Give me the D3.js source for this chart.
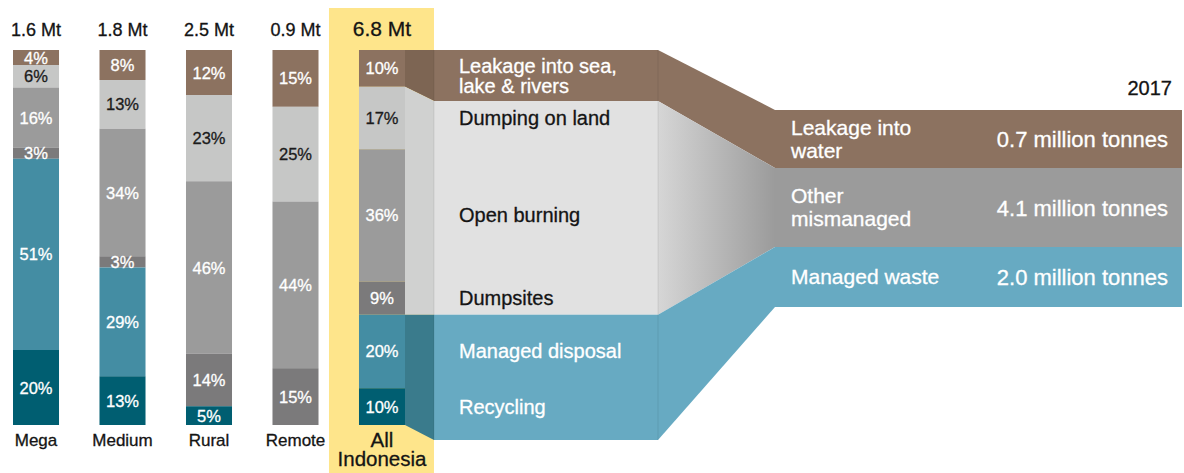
<!DOCTYPE html>
<html>
<head>
<meta charset="utf-8">
<script src="https://cdn.jsdelivr.net/npm/d3@7"></script>
<style>
  body { margin: 0; background: #fff; }
  svg { display: block; font-family: "Liberation Sans", Arial, sans-serif; }
  svg text { stroke: currentColor; stroke-width: 0.3px; }
</style>
</head>
<body>
<svg id="chart" width="1184" height="473"></svg>
<script>
// data
const categories = ["Mega", "Medium", "Rural", "Remote", "All Indonesia"];
const totals = ["1.6 Mt", "1.8 Mt", "2.5 Mt", "0.9 Mt", "6.8 Mt"];
const leakage = [4, 8, 12, 15, 10];
const dumpingLand = [6, 13, 23, 25, 17];
const openBurning = [16, 34, 46, 44, 36];
const dumpsites = [3, 3, 14, 15, 9];
const managedDisposal = [51, 29, 0, 0, 20];
const recycling = [20, 13, 5, 0, 10];
const fateLabels = [["Leakage into sea,", "lake & rivers"], ["Dumping on land"], ["Open burning"], ["Dumpsites"], ["Managed disposal"], ["Recycling"]];
const outcomeLabels = [["Leakage into", "water"], ["Other", "mismanaged"], ["Managed waste"]];
const outcomeValues = [0.7, 4.1, 2.0];
const year = "2017";

const series = [leakage, dumpingLand, openBurning, dumpsites, managedDisposal, recycling];
const segColors = ["#8c7260", "#c6c7c6", "#9b9b9b", "#7b7a7b", "#448da3", "#005e71"];
const segText = ["#fff", "#1b1b1b", "#fff", "#fff", "#fff", "#fff"];

const svg = d3.select("#chart");
const dark = "#141414";

const barTop = 50, barBottom = 425;
const x = d3.scaleBand().domain(categories).range([13, 405]).paddingInner(0.468);
const bw = x.bandwidth();

// stacked rows per category
const rows = categories.map((c, i) => {
  const vals = series.map(s => s[i]);
  const sum = d3.sum(vals);
  const y = d3.scaleLinear().domain([0, sum]).range([barTop, barBottom]);
  let acc = 0;
  const segs = vals.map((v, k) => {
    const s = { k, v, y0: y(acc), y1: y(acc + v) };
    acc += v;
    return s;
  });
  return { c, i, segs };
});

const all = rows[rows.length - 1];

// yellow highlight behind All Indonesia
svg.append("rect")
  .attr("x", x("All Indonesia") - 30).attr("y", 8)
  .attr("width", 105).attr("height", 473 - 8)
  .attr("fill", "#fee58b");

// layout of the flow part
const xc0 = x("All Indonesia") + bw, xc1 = 434, xm1 = 658, xr0 = 775, xr1 = 1182;
const seg = all.segs;
const midLeakBottom = 101, midBottom = 440;
const mid = [
  [seg[0].y0, midLeakBottom],
  [midLeakBottom, seg[3].y1],
  [seg[3].y1, midBottom]
];
const groupLeft = [
  [seg[0].y0, seg[0].y1],
  [seg[1].y0, seg[3].y1],
  [seg[4].y0, seg[5].y1]
];
const boxTops = [110, 168, 247, 307];
const right = [0, 1, 2].map(j => [boxTops[j], boxTops[j + 1]]);

const connColors = ["#7d6553", "#d0d1d0", "#3a7b8c"];
const midColors = ["#8c7260", "#e1e1e1", "#67aac2"];
const boxColors = ["#8c7260", "#9b9b9b", "#67aac2"];

const defs = svg.append("defs");
const grad = defs.append("linearGradient").attr("id", "gray-grad")
  .attr("x1", "0%").attr("x2", "100%").attr("y1", "0%").attr("y2", "0%");
grad.append("stop").attr("offset", "0%").attr("stop-color", "#d6d6d6");
grad.append("stop").attr("offset", "100%").attr("stop-color", "#9b9b9b");
const rightConn = ["#8c7260", "url(#gray-grad)", "#67aac2"];

const quad = (xa, a, xb, b) => `M${xa},${a[0]}L${xb},${b[0]}L${xb},${b[1]}L${xa},${a[1]}Z`;

// left connectors
svg.selectAll(".conn-l").data(groupLeft).join("path")
  .attr("class", "conn-l")
  .attr("d", (d, j) => quad(xc0, d, xc1, mid[j]))
  .attr("fill", (d, j) => connColors[j]);

// middle panel
svg.selectAll(".mid").data(mid).join("rect")
  .attr("class", "mid")
  .attr("x", xc1).attr("width", xm1 - xc1)
  .attr("y", d => d[0]).attr("height", d => d[1] - d[0])
  .attr("fill", (d, j) => midColors[j]);

// right connectors
svg.selectAll(".conn-r").data(mid).join("path")
  .attr("class", "conn-r")
  .attr("d", (d, j) => quad(xm1, d, xr0, right[j]))
  .attr("fill", (d, j) => rightConn[j]);

// thin edges
[xc1, xm1].forEach(xx => {
  svg.append("line").attr("x1", xx).attr("x2", xx).attr("y1", mid[0][0]).attr("y2", midBottom)
    .attr("stroke", "#000").attr("stroke-opacity", 0.08);
});

// right boxes
svg.selectAll(".box").data(right).join("rect")
  .attr("class", "box")
  .attr("x", xr0).attr("width", xr1 - xr0)
  .attr("y", d => d[0]).attr("height", d => d[1] - d[0])
  .attr("fill", (d, j) => boxColors[j]);

svg.append("text").attr("x", 1172).attr("y", 95)
  .attr("text-anchor", "end").attr("font-size", 20).attr("fill", dark).style("color", dark).text(year);

outcomeLabels.forEach((lines, j) => {
  const cy = (right[j][0] + right[j][1]) / 2;
  const t = svg.append("text").attr("x", 791).attr("font-size", 21)
    .attr("fill", "#fff").style("color", "#fff");
  lines.forEach((l, n) => {
    t.append("tspan").attr("x", 791)
      .attr("y", cy + 7 + (n - (lines.length - 1) / 2) * 23).text(l);
  });
  svg.append("text").attr("x", 1168).attr("y", cy + 8)
    .attr("text-anchor", "end").attr("font-size", 22)
    .attr("fill", "#fff").style("color", "#fff")
    .text(d3.format(".1f")(outcomeValues[j]) + " million tonnes");
});

// stacked bars
const bars = svg.selectAll(".bar").data(rows).join("g")
  .attr("class", "bar")
  .attr("transform", d => `translate(${x(d.c)},0)`);

bars.selectAll("rect").data(d => d.segs.filter(s => s.v > 0)).join("rect")
  .attr("y", s => s.y0).attr("height", s => s.y1 - s.y0)
  .attr("width", bw)
  .attr("fill", s => segColors[s.k]);

bars.selectAll("text.pct").data(d => d.segs.filter(s => s.v > 0)).join("text")
  .attr("class", "pct")
  .attr("x", bw / 2).attr("y", s => (s.y0 + s.y1) / 2 + 6)
  .attr("text-anchor", "middle").attr("font-size", 16.5)
  .attr("fill", s => segText[s.k]).style("color", s => segText[s.k])
  .text(s => s.v + "%");

// totals on top
bars.append("text")
  .attr("x", bw / 2).attr("y", 36).attr("text-anchor", "middle")
  .attr("font-size", d => d.c === "All Indonesia" ? 21 : 18)
  .attr("fill", dark).style("color", dark)
  .text(d => totals[d.i]);

// category names
bars.each(function (d) {
  const g = d3.select(this);
  const words = d.c === "All Indonesia" ? ["All", "Indonesia"] : [d.c];
  const t = g.append("text").attr("text-anchor", "middle")
    .attr("font-size", words.length > 1 ? 20.5 : 17)
    .attr("fill", dark).style("color", dark);
  words.forEach((w, n) => {
    t.append("tspan").attr("x", bw / 2).attr("y", (words.length > 1 ? 447 : 446) + n * 19).text(w);
  });
});

// labels on middle panel
fateLabels.forEach((lines, k) => {
  const cy = k === 0 ? (mid[0][0] + mid[0][1]) / 2 : (seg[k].y0 + seg[k].y1) / 2;
  const col = k === 0 || k >= 4 ? "#fff" : dark;
  const t = svg.append("text").attr("font-size", 20).attr("fill", col).style("color", col);
  lines.forEach((l, n) => {
    t.append("tspan").attr("x", 459)
      .attr("y", cy + 7 + (n - (lines.length - 1) / 2) * 20).text(l);
  });
});
</script>
</body>
</html>
